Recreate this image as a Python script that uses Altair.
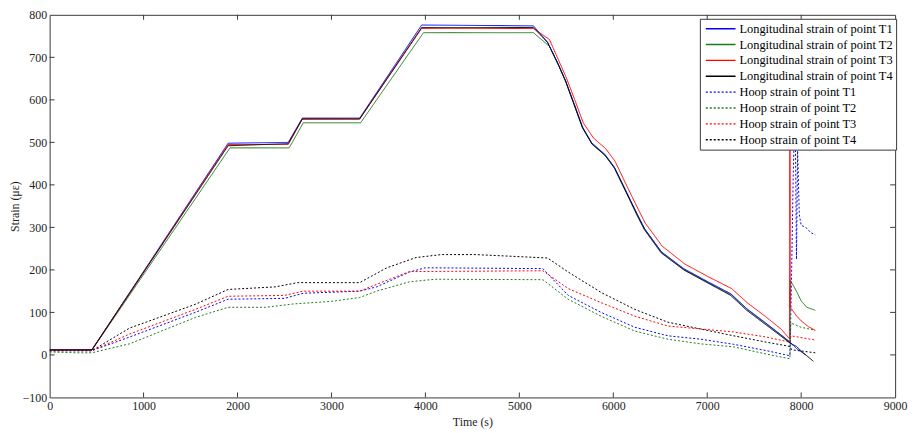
import altair as alt
import pandas as pd

# ---------------- data ----------------
series_names = [
    "Longitudinal strain of point T1",
    "Longitudinal strain of point T2",
    "Longitudinal strain of point T3",
    "Longitudinal strain of point T4",
    "Hoop strain of point T1",
    "Hoop strain of point T2",
    "Hoop strain of point T3",
    "Hoop strain of point T4",
]
series_colors = ["#0000ff", "#1f7a1a", "#ff0000", "#000000",
                 "#0000ff", "#1f7a1a", "#ff0000", "#000000"]
series_dashes = [[1, 0], [1, 0], [1, 0], [1, 0], [2, 2], [2, 2], [2, 2], [2, 2]]

# Longitudinal strain T1 (blue)
long_t1_time = [0, 450, 1900, 2540, 2690, 3300, 3960, 5150, 5300, 5410, 5490, 5580, 5670, 5770,
                5910, 6010, 6120, 6250, 6330, 6510, 6750, 7000, 7250, 7420, 7600, 7780, 7880,
                7950, 8050]
long_t1_val = [12, 12, 498, 500, 557, 557, 776, 774, 736, 686, 646, 592, 537, 499,
               472, 442, 392, 333, 298, 243, 203, 173, 144, 109, 79, 48, 30,
               15, 0]

# Longitudinal strain T2 (green)
long_t2_time = [0, 450, 1920, 2550, 2700, 3310, 3980, 5150, 5320, 5420, 5500, 5590, 5680, 5780,
                5920, 6020, 6130, 6260, 6340, 6520, 6760, 7010, 7260, 7430, 7610, 7790, 7880,
                7886, 7950, 8000, 8060, 8150]
long_t2_val = [11, 11, 487, 487, 546, 546, 758, 758, 726, 680, 640, 587, 532, 494,
               468, 438, 388, 328, 294, 240, 200, 170, 141, 106, 76, 46, 30,
               175, 150, 127, 112, 105]

# Longitudinal strain T3 (red)
long_t3_time = [0, 450, 1900, 2540, 2690, 3300, 3960, 5150, 5320, 5420, 5500, 5590, 5680, 5790,
                5920, 6020, 6130, 6260, 6340, 6520, 6760, 7010, 7260, 7430, 7610, 7790, 7876,
                7880, 7884, 7950, 8000, 8080, 8150]
long_t3_val = [12, 12, 495, 495, 555, 555, 768, 768, 742, 692, 652, 600, 546, 510,
               485, 455, 404, 345, 310, 256, 214, 184, 156, 122, 92, 60, 38,
               790, 112, 92, 80, 66, 58]

# Longitudinal strain T4 (black)
long_t4_time = [0, 450, 1900, 2540, 2690, 3300, 3960, 5150, 5300, 5410, 5490, 5580, 5670, 5770,
                5910, 6010, 6120, 6250, 6330, 6510, 6750, 7000, 7250, 7420, 7600, 7780, 7880,
                7950, 8020, 8060, 8130]
long_t4_val = [12, 12, 492, 497, 555, 555, 770, 770, 735, 685, 645, 590, 535, 497,
               470, 440, 390, 330, 295, 240, 200, 170, 140, 105, 75, 45, 28,
               20, 5, -2, -15]

# Hoop strain T1 (blue dashed)
hoop_t1_time = [0, 450, 850, 1550, 1900, 2500, 2700, 3300, 3480, 3830, 4000, 5250, 5520, 5870,
                6230, 6580, 6930, 7280, 7630, 7880, 7895, 7915, 7935, 7950, 7962, 7980, 8000,
                8050, 8100, 8150]
hoop_t1_val = [10, 10, 42, 100, 131, 133, 145, 150, 160, 195, 205, 203, 140, 100,
               65, 45, 37, 25, 10, -2, 150, 420, 600, 225, 480, 330, 305,
               300, 288, 282]

# Hoop strain T2 (green dashed)
hoop_t2_time = [0, 300, 450, 850, 1550, 1900, 2300, 2600, 3000, 3300, 3480, 3830, 4100, 5250,
                5520, 5870, 6230, 6580, 6930, 7280, 7630, 7880, 7890, 8000, 8150]
hoop_t2_val = [7, 5, 5, 26, 88, 112, 112, 120, 126, 135, 150, 172, 178, 177,
               131, 91, 56, 37, 26, 19, 2, -9, 75, 65, 58]

# Hoop strain T3 (red dashed)
hoop_t3_time = [0, 450, 850, 1550, 1900, 2500, 2700, 3300, 3480, 3830, 5250, 5520, 5870, 6230,
                6580, 6930, 7280, 7630, 7880, 7890, 8150]
hoop_t3_val = [10, 10, 49, 107, 138, 140, 150, 150, 166, 196, 198, 156, 123, 91,
               68, 61, 54, 42, 30, 45, 35]

# Hoop strain T4 (black dashed)
hoop_t4_time = [0, 450, 850, 1550, 1900, 2400, 2640, 3300, 3590, 3900, 4170, 4540, 5300, 5520,
                5870, 6230, 6580, 6930, 7280, 7630, 7880, 7900, 8150]
hoop_t4_val = [10, 10, 63, 119, 154, 160, 170, 170, 205, 229, 236, 236, 228, 195,
               147, 107, 77, 61, 45, 30, 20, 12, 5]

x_tick_values = [0, 1000, 2000, 3000, 4000, 5000, 6000, 7000, 8000, 9000]
x_inner_ticks = [1000, 2000, 3000, 4000, 5000, 6000, 7000, 8000]
y_tick_values = [-100, 0, 100, 200, 300, 400, 500, 600, 700, 800]
y_inner_ticks = [0, 100, 200, 300, 400, 500, 600, 700]

# ---------------- build table ----------------
pairs = [
    (hoop_t2_time, hoop_t2_val), (hoop_t1_time, hoop_t1_val),
    (hoop_t3_time, hoop_t3_val), (hoop_t4_time, hoop_t4_val),
    (long_t2_time, long_t2_val), (long_t1_time, long_t1_val),
    (long_t3_time, long_t3_val), (long_t4_time, long_t4_val),
]
names_order = [series_names[5], series_names[4], series_names[6], series_names[7],
               series_names[1], series_names[0], series_names[2], series_names[3]]
rows = []
for name, (ts, vs) in zip(names_order, pairs):
    for i, (t, v) in enumerate(zip(ts, vs)):
        rows.append({"series": name, "t": t, "v": v, "i": i})
df = pd.DataFrame(rows)

W, H = 853, 386
FRAME = "#3a3a3a"
FONT = "Liberation Serif"

x_scale = alt.Scale(domain=[0, 9000], nice=False, zero=False)
y_scale = alt.Scale(domain=[-100, 800], nice=False, zero=False)

x_axis = alt.Axis(values=x_tick_values, title="Time (s)", labelFlush=False,
                  labelPadding=3, titlePadding=5, format="d")
y_axis = alt.Axis(values=y_tick_values, title="Strain (\u03bc\u03b5)", labelFlush=False,
                  labelPadding=3, titlePadding=1, format="d")

legend_cfg = dict(
    title=None, orient="none", legendX=656, legendY=4,
    symbolType="stroke", symbolSize=900, clipHeight=14, rowPadding=2,
    symbolStrokeWidth=1.4, symbolOffset=2, labelFont=FONT, labelFontSize=12.5,
    labelColor="#000", labelLimit=0, fillColor="white", strokeColor=FRAME,
    padding=3, labelOffset=3,
)

lines = alt.Chart(df).mark_line(strokeWidth=1, clip=True).encode(
    x=alt.X("t:Q", scale=x_scale, axis=x_axis),
    y=alt.Y("v:Q", scale=y_scale, axis=y_axis),
    color=alt.Color("series:N", scale=alt.Scale(domain=series_names, range=series_colors),
                    legend=alt.Legend(**legend_cfg)),
    strokeDash=alt.StrokeDash("series:N", scale=alt.Scale(domain=series_names, range=series_dashes),
                              legend=alt.Legend(**legend_cfg)),
    detail="series:N",
    order="i:Q",
)

xt = pd.DataFrame({"t": x_inner_ticks})
yt = pd.DataFrame({"v": y_inner_ticks})
tick_bottom = alt.Chart(xt).mark_rule(color=FRAME, strokeWidth=1).encode(
    x=alt.X("t:Q", scale=x_scale, axis=x_axis), y=alt.value(H), y2=alt.value(H - 5))
tick_top = alt.Chart(xt).mark_rule(color=FRAME, strokeWidth=1).encode(
    x=alt.X("t:Q", scale=x_scale, axis=x_axis), y=alt.value(0), y2=alt.value(5))
tick_left = alt.Chart(yt).mark_rule(color=FRAME, strokeWidth=1).encode(
    y=alt.Y("v:Q", scale=y_scale, axis=y_axis), x=alt.value(0), x2=alt.value(5))
tick_right = alt.Chart(yt).mark_rule(color=FRAME, strokeWidth=1).encode(
    y=alt.Y("v:Q", scale=y_scale, axis=y_axis), x=alt.value(W), x2=alt.value(W - 5))

chart = alt.layer(lines, tick_bottom, tick_top, tick_left, tick_right).properties(
    width=W, height=H,
    autosize=alt.AutoSizeParams(type="none"),
    padding={"left": 42, "top": 5, "right": 13, "bottom": 34},
).configure_view(
    stroke=FRAME, strokeWidth=1
).configure_axis(
    domain=False, ticks=False, grid=False,
    labelFont=FONT, labelFontSize=12, labelColor="#222",
    titleFont=FONT, titleFontSize=12, titleFontWeight="normal", titleColor="#222",
)

chart.save("out.html", embed_options={"renderer": "svg", "actions": False})
